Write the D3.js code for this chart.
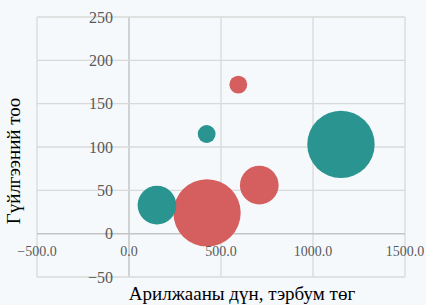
<!DOCTYPE html>
<html><head><meta charset="utf-8">
<script src="https://cdn.jsdelivr.net/npm/d3@7"></script>
<style>
html,body{margin:0;padding:0;background:#f5f9fc;}
svg{display:block;}
</style></head>
<body>
<svg id="c" width="426" height="305"></svg>
<script>
const xTicks = [-500, 0, 500, 1000, 1500];
const yTicks = [-50, 0, 50, 100, 150, 200, 250];
const xValues = [594, 422, 1152, 708, 152, 424];
const yValues = [172, 115, 103, 56, 33, 24];
const sizes   = [7, 7, 100, 33, 33, 100];
const groups  = ["red", "teal", "teal", "red", "teal", "red"];
const colors = {red: "#d55f5f", teal: "#2a9490"};
const xTitle = "Арилжааны дүн, тэрбум төг";
const yTitle = "Гүйлгээний тоо";

const svg = d3.select("#c");
const x = d3.scaleLinear().domain([-500, 1500]).range([37, 405]);
const y = d3.scaleLinear().domain([-50, 250]).range([277, 17]);
const r = d3.scaleSqrt().domain([0, 100]).range([0, 33.7]);

// gridlines
svg.append("g").selectAll("line").data(xTicks).join("line")
  .attr("x1", d => x(d)).attr("x2", d => x(d)).attr("y1", y(250)).attr("y2", y(-50))
  .attr("stroke", d => d === 0 ? "#c4c4c4" : "#d9d9d9").attr("stroke-width", d => d === 0 ? 1.5 : 1.3);
svg.append("g").selectAll("line").data(yTicks).join("line")
  .attr("y1", d => y(d)).attr("y2", d => y(d)).attr("x1", x(-500)).attr("x2", x(1500))
  .attr("stroke", d => d === 0 ? "#c4c4c4" : "#d9d9d9").attr("stroke-width", d => d === 0 ? 1.5 : 1.3);

// bubbles (largest first)
const pts = xValues.map((v, i) => ({x: v, y: yValues[i], s: sizes[i], g: groups[i]}));
pts.sort((a, b) => b.s - a.s);
svg.append("g").selectAll("circle").data(pts).join("circle")
  .attr("cx", d => x(d.x)).attr("cy", d => y(d.y)).attr("r", d => r(d.s))
  .attr("fill", d => colors[d.g]);

// y tick labels
svg.append("g").selectAll("text").data(yTicks).join("text")
  .attr("x", 113).attr("y", d => y(d)).attr("dy", "0.35em")
  .attr("text-anchor", "end")
  .attr("font-family", "Liberation Serif").attr("font-size", 16).attr("fill", "#595959")
  .text(d => d3.format("d")(d));

// x tick labels
svg.append("g").selectAll("text").data(xTicks).join("text")
  .attr("x", d => x(d)).attr("y", 256)
  .attr("text-anchor", "middle")
  .attr("font-family", "Liberation Serif").attr("font-size", 14).attr("fill", "#595959")
  .text(d => d3.format(".1f")(d));

// axis titles
svg.append("text").attr("x", 242).attr("y", 300).attr("text-anchor", "middle")
  .attr("font-family", "Liberation Serif").attr("font-size", 19).attr("fill", "#000")
  .text(xTitle);
svg.append("text").attr("transform", "translate(20,161) rotate(-90)").attr("text-anchor", "middle")
  .attr("font-family", "Liberation Serif").attr("font-size", 19).attr("fill", "#000")
  .text(yTitle);
</script>
</body></html>
